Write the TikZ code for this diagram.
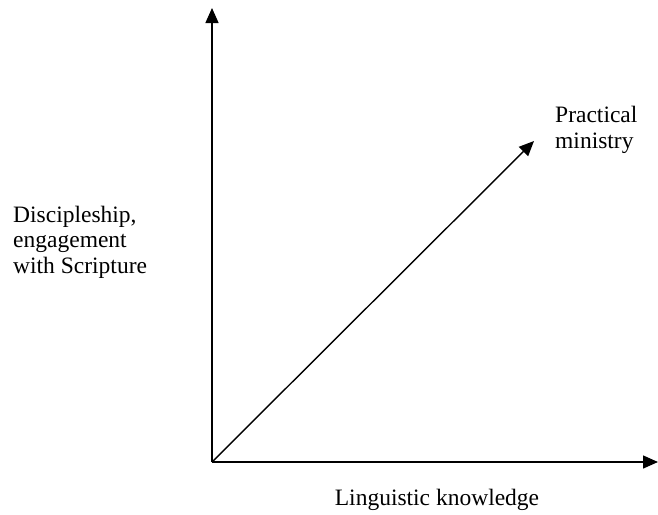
\documentclass[tikz,border=0pt]{standalone}
\usepackage{fontspec}
\setmainfont{Liberation Serif}
\usetikzlibrary{arrows.meta,positioning}

\begin{document}
\begin{tikzpicture}[x=1pt, y=-1pt,
    axis/.style={line width=1.4pt, -{Triangle[length=15pt,width=13pt]}},
    lbl/.style={font=\fontsize{23.5}{25.5}\selectfont, align=left, inner sep=0pt}]
  \useasboundingbox (0,0) rectangle (658,514);

  % Achsen und Diagonale
  \coordinate (o) at (212,462);
  \coordinate (ytip) at (212,8);
  \coordinate (xtip) at (658,462);
  \coordinate (dtip) at (534,141);
  \draw[axis] (o) -- (ytip);
  \draw[axis] (o) -- (xtip);
  \draw[axis] (o) -- (dtip);

  % Beschriftungen
  \node[lbl, anchor=west] (prac) at (555,130) {Practical\\ministry};
  \node[lbl, anchor=west] (disc) at (13,242) {Discipleship,\\engagement\\with Scripture};
  \node[lbl] (ling) at (437,500) {Linguistic knowledge};
\end{tikzpicture}
\end{document}
